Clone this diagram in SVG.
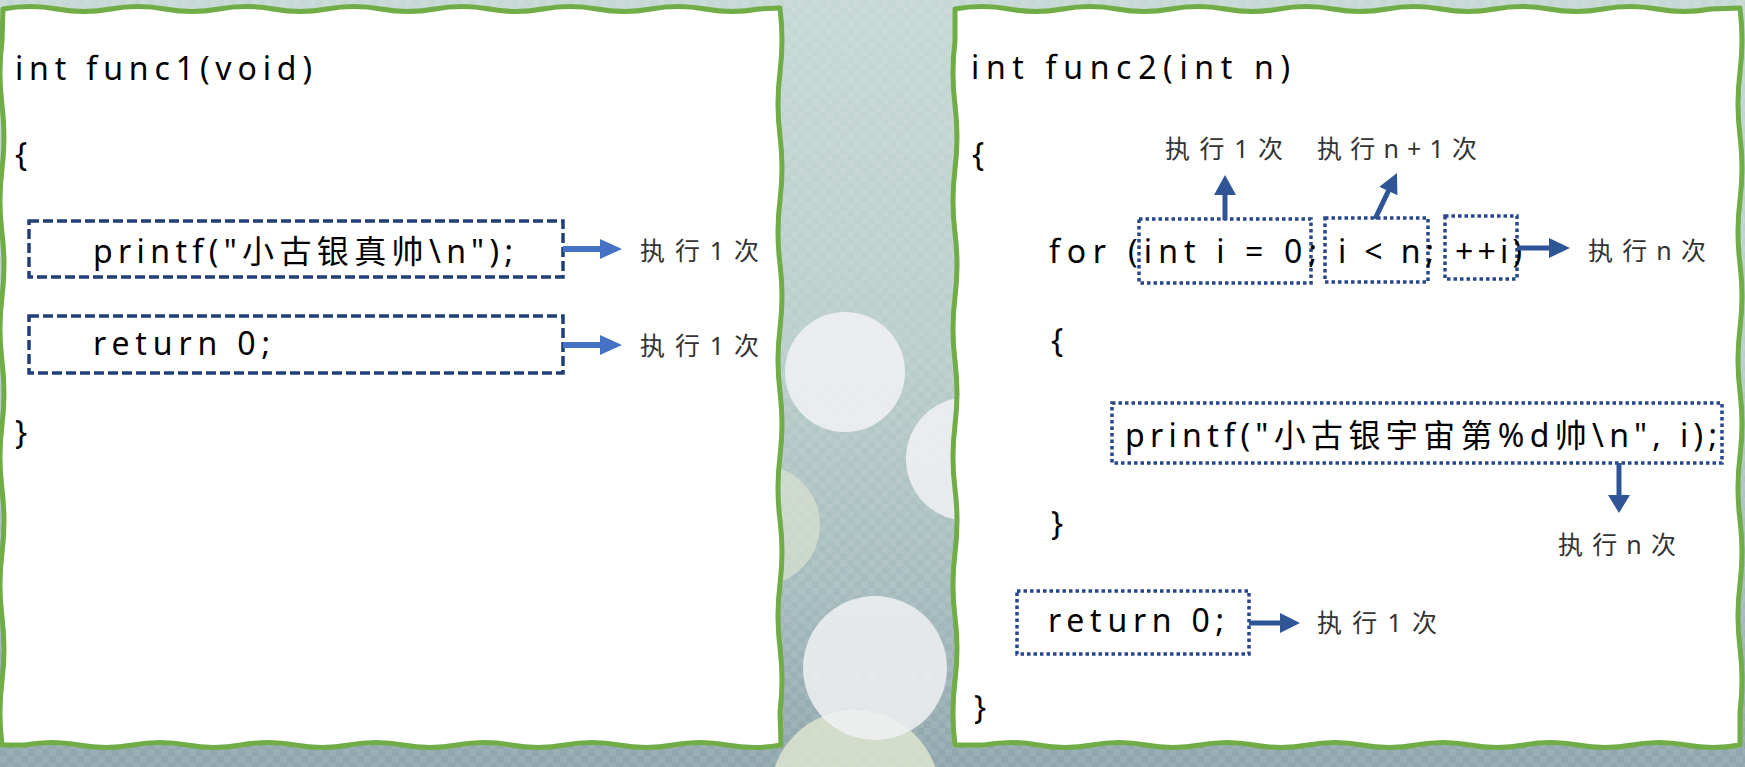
<svg xmlns="http://www.w3.org/2000/svg" width="1745" height="767" viewBox="0 0 1745 767">
<defs>
<linearGradient id="bg" x1="0" y1="0" x2="0" y2="1">
<stop offset="0" stop-color="#c6d8d4"/>
<stop offset="0.45" stop-color="#bacecb"/>
<stop offset="0.75" stop-color="#a8bdbf"/>
<stop offset="1" stop-color="#8fa6ad"/>
</linearGradient>
<pattern id="chk" width="14" height="14" patternUnits="userSpaceOnUse">
<rect width="7" height="7" fill="#ffffff" opacity="0.09"/>
<rect x="7" y="7" width="7" height="7" fill="#ffffff" opacity="0.09"/>
</pattern>
<style>
.panel{fill:#ffffff;stroke:#70ad47;stroke-width:5;stroke-linejoin:round}
.code{font-family:"Noto Sans","Noto Sans CJK SC",sans-serif;font-size:32px;fill:#000000}
.lbl{font-family:"Noto Sans","Noto Sans CJK SC",sans-serif;font-size:25px;fill:#333333}
.dash{fill:none;stroke:#1f3f78;stroke-width:3.5;stroke-dasharray:10 4}
.dot{fill:none;stroke:#27478a;stroke-width:3.5;stroke-dasharray:3.5 3}
.a1{fill:#4472c4}
.a2{fill:#2f5597}
</style>
</defs>

<!-- background -->
<rect width="1745" height="767" fill="url(#bg)"/>
<rect width="1745" height="767" fill="url(#chk)"/>
<circle cx="760" cy="525" r="60" fill="#e6ebd3" opacity="0.55"/>
<circle cx="855" cy="795" r="85" fill="#e2e8d2" opacity="0.8"/>
<circle cx="845" cy="372" r="60" fill="#f2f2f4" opacity="0.85"/>
<circle cx="968" cy="459" r="62" fill="#f2f2f4" opacity="0.85"/>
<circle cx="875" cy="668" r="72" fill="#f0f1f3" opacity="0.85"/>

<!-- panels -->
<path class="panel" d="M3,9 Q30,4 57,9 T111,9 T165,9 T219,9 T273,9 T327,9 T381,9 T435,9 T489,9 T543,9 T597,9 T651,9 T705,9 T759,9 L780,8 Q784,40 780,72 T780,136 T780,200 T780,264 T780,328 T780,392 T780,456 T780,520 T780,584 T780,648 T780,712 L781,745 Q754,750 727,745 T673,745 T619,745 T565,745 T511,745 T457,745 T403,745 T349,745 T295,745 T241,745 T187,745 T133,745 T79,745 T25,745 L2,745 Q-2,713 2,681 T2,617 T2,553 T2,489 T2,425 T2,361 T2,297 T2,233 T2,169 T2,105 T2,41 L3,9 Z"/>
<path class="panel" d="M955,9 Q982,4 1009,9 T1063,9 T1117,9 T1171,9 T1225,9 T1279,9 T1333,9 T1387,9 T1441,9 T1495,9 T1549,9 T1603,9 T1657,9 T1711,9 L1740,8 Q1744,40 1740,72 T1740,136 T1740,200 T1740,264 T1740,328 T1740,392 T1740,456 T1740,520 T1740,584 T1740,648 T1740,712 L1740,745 Q1713,750 1686,745 T1632,745 T1578,745 T1524,745 T1470,745 T1416,745 T1362,745 T1308,745 T1254,745 T1200,745 T1146,745 T1092,745 T1038,745 T984,745 L955,745 Q951,713 955,681 T955,617 T955,553 T955,489 T955,425 T955,361 T955,297 T955,233 T955,169 T955,105 T955,41 L955,9 Z"/>

<!-- left panel: func1 -->
<g id="func1-header">
<text class="code" x="15" y="80" textLength="297" lengthAdjust="spacing">int func1(void)</text>
<text class="code" x="15" y="166">{</text>
</g>
<g id="func1-printf">
<rect class="dash" x="29" y="221" width="534" height="56"/>
<text class="code" x="93" y="263" textLength="420" lengthAdjust="spacing">printf("小古银真帅\n");</text>
</g>
<g id="func1-printf-label">
<text class="lbl" x="640" y="260" textLength="119" lengthAdjust="spacing">执行1次</text>
</g>
<g id="func1-return">
<rect class="dash" x="29" y="316" width="534" height="57"/>
<text class="code" x="93" y="355" textLength="177" lengthAdjust="spacing">return 0;</text>
</g>
<g id="func1-return-label">
<text class="lbl" x="640" y="355" textLength="119" lengthAdjust="spacing">执行1次</text>
</g>
<g id="func1-close">
<text class="code" x="15" y="444">}</text>
</g>

<!-- right panel: func2 -->
<g id="func2-header">
<text class="code" x="971" y="79" textLength="319" lengthAdjust="spacing">int func2(int n)</text>
<text class="code" x="972" y="166">{</text>
</g>
<g id="for-line">
<text class="code" x="1049" y="263" textLength="57" lengthAdjust="spacing">for</text>
</g>
<g id="for-init">
<rect class="dot" x="1139" y="219" width="172" height="64"/>
<text class="code" x="1128" y="263" textLength="189" lengthAdjust="spacing">(int i = 0;</text>
</g>
<g id="for-cond">
<rect class="dot" x="1325" y="218" width="103" height="64"/>
<text class="code" x="1338" y="263" textLength="96" lengthAdjust="spacing">i &lt; n;</text>
</g>
<g id="for-inc">
<rect class="dot" x="1445" y="216" width="72" height="63"/>
<text class="code" x="1455" y="263" textLength="67" lengthAdjust="spacing">++i)</text>
</g>
<g id="for-init-label">
<text class="lbl" x="1165" y="158" textLength="118" lengthAdjust="spacing">执行1次</text>
</g>
<g id="for-cond-label">
<text class="lbl" x="1317" y="158" textLength="160" lengthAdjust="spacing">执行n+1次</text>
</g>
<g id="for-inc-label">
<text class="lbl" x="1588" y="260" textLength="118" lengthAdjust="spacing">执行n次</text>
</g>
<g id="loop-open">
<text class="code" x="1051" y="352">{</text>
</g>
<g id="func2-printf">
<rect class="dot" x="1112" y="403" width="610" height="60"/>
<text class="code" x="1125" y="447" textLength="592" lengthAdjust="spacing">printf("小古银宇宙第%d帅\n", i);</text>
</g>
<g id="func2-printf-label">
<text class="lbl" x="1558" y="554" textLength="118" lengthAdjust="spacing">执行n次</text>
</g>
<g id="loop-close">
<text class="code" x="1051" y="535">}</text>
</g>
<g id="func2-return">
<rect class="dot" x="1017" y="591" width="232" height="63"/>
<text class="code" x="1048" y="632" textLength="176" lengthAdjust="spacing">return 0;</text>
</g>
<g id="func2-return-label">
<text class="lbl" x="1317" y="632" textLength="120" lengthAdjust="spacing">执行1次</text>
</g>
<g id="func2-close">
<text class="code" x="974" y="719">}</text>
</g>

<!-- connectors -->
<g id="connectors">
<path class="a1" d="M563,246 H600 V239 L622,249 L600,259 V252 H563 Z"/>
<path class="a1" d="M563,342 H600 V335 L622,345 L600,355 V348 H563 Z"/>
<path class="a2" d="M1222.5,220 V195 H1214 L1225,175 L1236,195 H1227.5 V220 Z"/>
<path class="a2" d="M1372.7,217.9 L1386.1,189.9 L1379.4,186.7 L1397,173 L1397.4,195.3 L1390.7,192.1 L1377.3,220.1 Z"/>
<path class="a2" d="M1517,245.5 H1549 V238 L1570,248 L1549,258 V250.5 H1517 Z"/>
<path class="a2" d="M1616.5,463 V495 H1608 L1619,513 L1630,495 H1621.5 V463 Z"/>
<path class="a2" d="M1249,620.5 H1280 V613 L1300,623 L1280,633 V625.5 H1249 Z"/>
</g>
</svg>
